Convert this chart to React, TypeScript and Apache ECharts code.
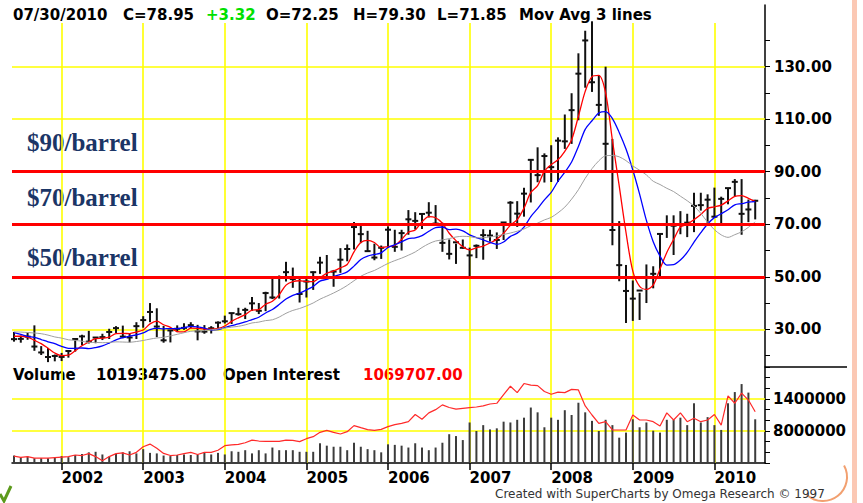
import React, { useEffect, useRef } from "react";
import * as echarts from "echarts";

// ---------- DATA ----------
const lastDate = "07/30/2010";
// monthly bars, Jun 2001 .. Jul 2010 (index 0 .. 109)
const opens = [
  28.4, 26.3, 26.4, 27.2, 23.4, 21.2, 19.4,
  19.8, 19.5, 21.7, 26.3, 27.3, 25.3, 26.9, 27.0, 29.0, 30.5, 27.2, 26.9,
  31.2, 33.5, 36.6, 31.0, 25.8, 29.6, 30.2, 30.5, 31.6, 29.2, 29.1, 30.4,
  32.5, 33.0, 36.2, 35.8, 37.4, 39.9, 37.1, 43.8, 42.1, 49.6, 51.8, 49.1,
  43.5, 48.2, 51.8, 55.4, 49.7, 52.0, 56.5, 60.6, 68.9, 66.2, 59.8, 57.3,
  61.0, 67.9, 61.4, 66.6, 71.9, 71.3, 73.9, 74.4, 70.3, 62.9, 58.7, 63.1,
  61.1, 58.1, 61.8, 65.9, 65.7, 64.0, 70.7, 78.2, 74.0, 81.7, 94.5, 88.7,
  96.0, 91.8, 101.8, 101.6, 113.5, 127.4, 140.0, 124.1, 115.5, 100.6, 67.8, 54.4,
  44.6, 41.7, 44.8, 49.7, 51.1, 66.3, 69.9, 69.5, 70.0, 70.6, 77.0, 77.3,
  79.4, 72.9, 79.7, 83.8, 86.2, 74.0, 72.25,
];
const highs = [
  29.0, 27.6, 28.7, 31.5, 23.6, 22.9, 20.4,
  21.0, 21.9, 26.5, 27.9, 29.4, 27.0, 28.3, 30.2, 31.2, 31.4, 28.2, 32.7,
  35.0, 39.99, 38.0, 31.3, 29.6, 31.5, 32.3, 32.7, 31.7, 31.6, 31.2, 33.0,
  35.2, 36.2, 38.2, 38.2, 42.3, 40.0, 44.3, 49.4, 50.5, 55.7, 53.5, 49.9,
  49.8, 52.0, 57.6, 58.3, 52.6, 60.9, 62.3, 70.85, 69.8, 67.5, 62.6, 61.9,
  69.2, 67.9, 67.9, 75.4, 74.6, 74.2, 78.4, 77.3, 70.6, 64.2, 62.6, 64.2,
  61.1, 62.3, 68.1, 67.9, 66.9, 70.8, 78.8, 78.8, 83.9, 94.7, 99.3, 97.0,
  100.1, 103.1, 111.8, 119.9, 135.1, 143.7, 147.3, 126.6, 130.0, 102.5, 71.2, 54.5,
  48.6, 43.9, 54.7, 54.0, 66.5, 73.4, 73.4, 75.0, 74.0, 82.0, 82.0, 81.4,
  83.95, 80.5, 83.8, 87.2, 87.2, 79.4, 79.3,
];
const lows = [
  25.3, 24.9, 26.0, 21.8, 20.2, 17.5, 17.8,
  17.9, 19.2, 21.5, 23.9, 24.6, 24.7, 25.9, 26.3, 28.6, 26.6, 25.0, 26.3,
  30.6, 32.7, 27.0, 24.9, 25.0, 28.9, 29.8, 30.4, 25.8, 28.3, 28.4, 29.9,
  32.2, 32.0, 35.2, 33.9, 37.0, 35.8, 36.9, 41.5, 41.7, 48.2, 45.8, 40.2,
  42.1, 45.0, 51.1, 49.1, 46.2, 51.5, 55.9, 60.4, 62.8, 59.5, 56.3, 56.8,
  61.0, 59.5, 60.0, 66.0, 68.0, 68.2, 72.6, 69.6, 59.5, 56.6, 54.9, 60.7,
  49.9, 57.1, 56.5, 63.4, 60.6, 64.0, 70.2, 69.0, 72.9, 78.3, 86.0, 85.9,
  86.1, 86.1, 98.7, 100.6, 109.6, 122.0, 120.4, 111.3, 90.5, 62.0, 48.3, 32.4,
  33.2, 33.55, 40.0, 45.6, 49.3, 64.8, 58.3, 66.2, 65.1, 67.0, 75.2, 69.5,
  72.4, 69.5, 77.6, 80.6, 66.0, 70.8, 71.85,
];
const closes = [
  26.25, 26.35, 27.2, 23.43, 21.18, 19.44, 19.84,
  19.48, 21.74, 26.31, 27.29, 25.31, 26.86, 27.02, 28.98, 30.45, 27.22, 26.89, 31.2,
  33.51, 36.6, 31.04, 25.8, 29.56, 30.19, 30.54, 31.57, 29.2, 29.11, 30.41, 32.52,
  33.05, 36.16, 35.76, 37.38, 39.88, 37.05, 43.8, 42.12, 49.64, 51.76, 49.13, 43.45,
  48.2, 51.75, 55.4, 49.72, 51.97, 56.5, 60.57, 68.94, 66.24, 59.76, 57.32, 61.04,
  67.92, 61.41, 66.63, 71.88, 71.29, 73.93, 74.4, 70.26, 62.91, 58.73, 63.13, 61.05,
  58.14, 61.79, 65.87, 65.71, 64.01, 70.68, 78.21, 74.04, 81.66, 94.53, 88.71, 95.98,
  91.75, 101.84, 101.58, 113.46, 127.35, 140.0, 124.08, 115.46, 100.64, 67.81, 54.43, 44.6,
  41.68, 44.76, 49.66, 51.12, 66.31, 69.89, 69.45, 69.96, 70.61, 77.0, 77.28, 79.36,
  72.89, 79.66, 83.76, 86.15, 73.97, 75.63, 78.95,
];
// closes Jan 2000 .. May 2001, used only so the averages exist from the first bar
const priorCloses = [
  27.64, 30.43, 26.9, 25.74, 29.01, 32.5, 27.43, 33.12, 30.84, 32.7, 33.82, 26.8,
  28.66, 27.39, 26.29, 28.46, 28.37,
];
const maPeriods = [4, 9, 18];
const maColors = ["#ff0000", "#0000ff", "#a0a0a0"];

// volume, millions of contracts
const volumes = [
  3.4, 3.1, 3.2, 2.9, 2.9, 2.9, 3.0,
  3.3, 3.1, 3.5, 3.7, 4.0, 4.1, 3.6, 3.2, 3.7, 4.0, 4.2, 3.8,
  4.6, 3.9, 3.8, 3.4, 3.3, 3.5, 3.6, 3.5, 3.6, 4.0, 3.6, 3.9,
  3.6, 4.2, 4.1, 4.4, 3.8, 4.4, 3.8, 4.9, 4.4, 4.4, 4.4, 4.1,
  4.1, 4.1, 5.7, 5.25, 5.05, 5.05, 4.4, 5.8, 5.05, 4.6, 4.4, 4.0,
  5.5, 5.4, 5.25, 4.9, 5.7, 4.9, 4.4, 4.9, 5.8, 7.4, 7.05, 6.3,
  9.6, 8.0, 9.1, 8.3, 8.5, 9.75, 9.6, 10.1, 10.5, 12.4, 11.5, 8.7,
  10.5, 10.1, 11.9, 11.0, 13.3, 11.5, 9.9, 8.0, 10.1, 9.1, 6.75, 7.7,
  10.2, 8.7, 9.6, 8.06, 7.7, 10.1, 10.1, 10.5, 9.1, 13.2, 9.6, 10.6,
  9.1, 8.2, 13.2, 15.3, 16.8, 15.2, 10.193475,
];
// open interest line as drawn against the volume scale
const openInterestLine = [
  3.3, 3.07, 3.2, 2.9, 2.9, 2.9, 3.0,
  3.1, 3.2, 3.5, 3.4, 3.75, 3.2, 2.43, 3.2, 3.75, 3.9, 3.5, 4.0,
  5.05, 5.55, 4.75, 3.8, 3.4, 3.5, 3.75, 4.0, 3.6, 4.0, 4.0, 4.4,
  5.25, 5.4, 5.5, 5.8, 6.3, 6.12, 6.06, 6.06, 6.06, 6.3, 6.25, 6.0,
  6.56, 6.94, 7.75, 8.12, 7.75, 7.44, 7.87, 9.0, 8.62, 8.25, 8.12, 8.31,
  8.81, 9.19, 9.44, 9.75, 11.1, 10.2, 11.4, 12.0, 12.9, 12.4, 12.1, 12.25,
  12.4, 12.5, 12.7, 13.06, 13.2, 14.8, 16.4, 15.2, 16.9, 16.6, 16.5, 15.4,
  14.9, 15.3, 15.2, 15.8, 15.7, 12.7, 11.0, 9.44, 9.75, 8.19, 8.19, 8.19,
  11.0, 10.06, 10.06, 9.75, 8.94, 11.4, 10.06, 11.4, 9.75, 10.4, 9.75, 10.06,
  11.1, 9.1, 14.6, 13.2, 15.1, 13.8, 11.6,
];
const openInterestLast = 1069707;

const yearTickIndex = [7, 19, 31, 43, 55, 67, 79, 91, 103];
const yearLabels = ["2002", "2003", "2004", "2005", "2006", "2007", "2008", "2009", "2010"];
const priceTickLabels = [30, 50, 70, 90, 110, 130];
const priceTickMarks = [20, 30, 40, 50, 60, 70, 80, 90, 100, 110, 120, 130, 140];
const volumeTickValues = [8, 14];
const volumeTickLabels = ["8000000", "1400000"];
const barrelLevels = [90, 70, 50];

// ---------- LAYOUT ----------
const X_MIN = -0.294;
const X_MAX = 110.44;
const P_MIN = 15.64;
const P_MAX = 153.5;
const P_GRID_TOP = 146.6;
const V_MIN = 2;
const V_MAX = 20;
const BIT = '"DejaVu Sans", sans-serif';
const GRID_YELLOW = "#ffff00";

function movingAverage(period: number) {
  const all = priorCloses.concat(closes);
  const off = priorCloses.length;
  return closes.map((_, i) => {
    const end = off + i;
    let s = 0;
    let n = 0;
    for (let k = end - period + 1; k <= end; k++) {
      if (k >= 0) {
        s += all[k];
        n++;
      }
    }
    return [i, s / n];
  });
}

function bitText(text: string, x: number, y: number, fill = "#000") {
  return {
    type: "text",
    x,
    y,
    silent: true,
    style: { text, fill, fontFamily: BIT, fontWeight: "bold", fontSize: 15, verticalAlign: "middle", align: "left" },
  };
}

export default function App() {
  const ref = useRef<HTMLDivElement>(null);
  useEffect(() => {
    if (!ref.current) return;
    const chart = echarts.init(ref.current, undefined, { renderer: "svg" });
    const n = closes.length;
    const last = n - 1;
    const change = closes[last] - closes[last - 1];

    const ohlc = closes.map((c, i) => [i, opens[i], highs[i], lows[i], c]);

    const gridLineStyle = { color: GRID_YELLOW, width: 1.6, type: "solid" };

    const option: any = {
      animation: false,
      backgroundColor: "#ffffff",
      grid: [
        { left: 12, right: 98, top: 5, height: 362 },
        { left: 12, right: 98, top: 367, height: 96 },
      ],
      xAxis: [
        { type: "value", gridIndex: 0, min: X_MIN, max: X_MAX, show: false },
        {
          type: "value",
          gridIndex: 1,
          min: X_MIN,
          max: X_MAX,
          axisLine: { show: true, onZero: false, lineStyle: { color: "#000", width: 1.5 } },
          axisTick: { show: true, customValues: yearTickIndex, length: 7, lineStyle: { color: "#000", width: 1.5 } },
          axisLabel: {
            show: true,
            customValues: yearTickIndex,
            formatter: (v: number) => yearLabels[yearTickIndex.indexOf(v)] ?? "",
            align: "left",
            margin: 7,
            fontFamily: BIT,
            fontWeight: "bold",
            fontSize: 15,
            color: "#000",
          },
          splitLine: { show: false },
        },
      ],
      yAxis: [
        {
          type: "value",
          gridIndex: 0,
          position: "right",
          min: P_MIN,
          max: P_MAX,
          axisLine: { show: true, onZero: false, lineStyle: { color: "#000", width: 1.5 } },
          axisTick: { show: true, customValues: priceTickMarks, length: 5, lineStyle: { color: "#000", width: 1 } },
          axisLabel: {
            show: true,
            customValues: priceTickLabels,
            formatter: (v: number) => v.toFixed(2),
            margin: 9,
            fontFamily: BIT,
            fontWeight: "bold",
            fontSize: 15,
            color: "#000",
          },
          splitLine: { show: false },
        },
        {
          type: "value",
          gridIndex: 1,
          position: "right",
          min: V_MIN,
          max: V_MAX,
          interval: 2,
          axisLine: { show: true, onZero: false, lineStyle: { color: "#000", width: 1.5 } },
          axisTick: { show: true, length: 5, lineStyle: { color: "#000", width: 1 } },
          axisLabel: {
            show: true,
            customValues: volumeTickValues,
            formatter: (v: number) => volumeTickLabels[volumeTickValues.indexOf(v)] ?? "",
            margin: 8,
            fontFamily: BIT,
            fontWeight: "bold",
            fontSize: 15,
            color: "#000",
          },
          splitLine: { show: false },
        },
      ],
      series: [
        {
          // price panel grid lines
          type: "line",
          xAxisIndex: 0,
          yAxisIndex: 0,
          data: [],
          z: 1,
          silent: true,
          markLine: {
            silent: true,
            z: 1,
            symbol: ["none", "none"],
            label: { show: false },
            lineStyle: gridLineStyle,
            data: [
              ...priceTickLabels.map((v) => ({ yAxis: v })),
              ...yearTickIndex.map((x) => [{ coord: [x, P_GRID_TOP] }, { coord: [x, P_MIN] }]),
            ],
          },
        },
        {
          // volume panel grid lines
          type: "line",
          xAxisIndex: 1,
          yAxisIndex: 1,
          data: [],
          z: 1,
          silent: true,
          markLine: {
            silent: true,
            z: 1,
            symbol: ["none", "none"],
            label: { show: false },
            lineStyle: gridLineStyle,
            data: [
              ...volumeTickValues.map((v) => ({ yAxis: v })),
              ...yearTickIndex.map((x) => [{ coord: [x, V_MIN] }, { coord: [x, V_MAX] }]),
            ],
          },
        },
        {
          type: "custom",
          name: "Price",
          xAxisIndex: 0,
          yAxisIndex: 0,
          z: 3,
          data: ohlc,
          encode: { x: 0, y: [2, 3] },
          renderItem: (params: any, api: any) => {
            const x = api.value(0);
            const h = api.coord([x, api.value(2)]);
            const l = api.coord([x, api.value(3)]);
            const c = api.coord([x, api.value(4)]);
            const st = { stroke: "#111", lineWidth: 2 };
            return {
              type: "group",
              children: [
                { type: "line", shape: { x1: h[0], y1: h[1], x2: l[0], y2: l[1] }, style: st },
                { type: "line", shape: { x1: c[0] - 3, y1: c[1], x2: c[0] + 3, y2: c[1] }, style: st },
              ],
            };
          },
        },
        ...maPeriods.map((p, k) => ({
          type: "line",
          name: `MA${p}`,
          xAxisIndex: 0,
          yAxisIndex: 0,
          z: 4,
          data: movingAverage(p),
          showSymbol: false,
          symbol: "none",
          smooth: 0.3,
          lineStyle: { color: maColors[k], width: k === 2 ? 1 : 1.3 },
        })),
        {
          type: "line",
          xAxisIndex: 0,
          yAxisIndex: 0,
          data: [],
          z: 6,
          silent: true,
          markLine: {
            silent: true,
            z: 6,
            symbol: ["none", "none"],
            label: { show: false },
            lineStyle: { color: "#ff0000", width: 3, type: "solid" },
            data: barrelLevels.map((v) => ({ yAxis: v })),
          },
        },
        {
          type: "bar",
          name: "Volume",
          xAxisIndex: 1,
          yAxisIndex: 1,
          z: 3,
          barWidth: 2,
          itemStyle: { color: "#3c3c3c" },
          data: volumes.map((v, i) => [i, v]),
        },
        {
          type: "line",
          name: "Open Interest",
          xAxisIndex: 1,
          yAxisIndex: 1,
          z: 4,
          showSymbol: false,
          symbol: "none",
          lineStyle: { color: "#ff2a2a", width: 1.2 },
          data: openInterestLine.map((v, i) => [i, v]),
        },
      ],
      graphic: [
        { type: "rect", silent: true, z: 0, shape: { x: 852, y: 0, width: 5, height: 503 }, style: { fill: "#fbc8b4" } },
        { type: "line", silent: true, shape: { x1: 765, y1: 367, x2: 847, y2: 367 }, style: { stroke: "#000", lineWidth: 1.5 } },
        { type: "arc", silent: true, shape: { cx: 823, cy: 477, r: 24, startAngle: -0.5, endAngle: 2.3 }, style: { stroke: "#f2a070", lineWidth: 2, fill: "none" } },
        { type: "polyline", silent: true, shape: { points: [[0, 494], [4, 501], [11, 486]] }, style: { stroke: "#5c9a1c", lineWidth: 3, fill: "none" } },
        bitText(lastDate, 13, 15),
        bitText(`C=${closes[last].toFixed(2)}`, 123, 15),
        bitText(`${change >= 0 ? "+" : ""}${change.toFixed(2)}`, 206, 15, "#00e000"),
        bitText(`O=${opens[last].toFixed(2)}`, 266, 15),
        bitText(`H=${highs[last].toFixed(2)}`, 353, 15),
        bitText(`L=${lows[last].toFixed(2)}`, 437, 15),
        bitText("Mov Avg 3 lines", 519, 15),
        bitText("Volume", 13, 375),
        bitText((volumes[last] * 1e6).toFixed(2), 96, 375),
        bitText("Open Interest", 223, 375),
        bitText(openInterestLast.toFixed(2), 363, 375, "#ff0000"),
        ...barrelLevels.map((lv, k) => ({
          type: "text",
          silent: true,
          x: 27,
          y: [142, 197, 257][k],
          style: {
            text: `$${lv}/barrel`,
            fill: "#1b3566",
            fontFamily: '"Liberation Serif", serif',
            fontWeight: "bold",
            fontSize: 25,
            verticalAlign: "middle",
          },
        })),
        {
          type: "text",
          silent: true,
          x: 495,
          y: 494,
          style: {
            text: "Created with SuperCharts by Omega Research © 1997",
            fill: "#333",
            fontFamily: BIT,
            fontSize: 12,
            verticalAlign: "middle",
          },
        },
      ],
    };
    chart.setOption(option);
    return () => chart.dispose();
  }, []);
  return <div ref={ref} style={{ position: "fixed", left: 0, top: 0, width: 863, height: 503, background: "#fff" }} />;
}
